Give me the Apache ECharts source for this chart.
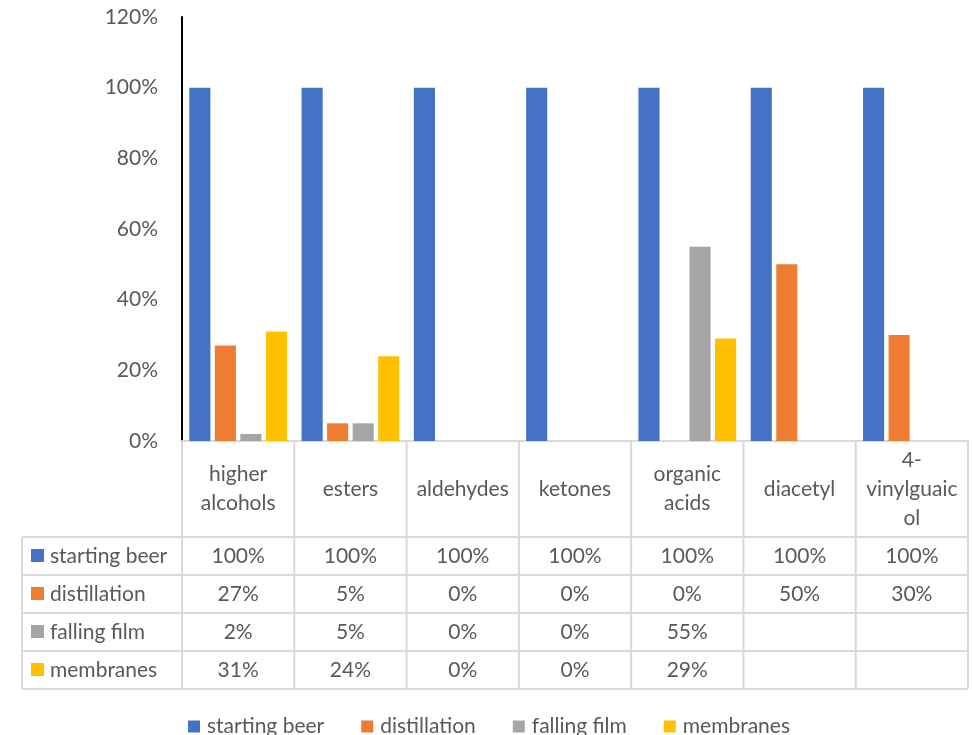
<!DOCTYPE html>
<html>
<head>
<meta charset="utf-8">
<script src="https://cdn.jsdelivr.net/npm/echarts@6/dist/echarts.min.js"></script>
<style>
  html, body { margin: 0; padding: 0; background: #fff; }
  #main { width: 972px; height: 735px; }
</style>
</head>
<body>
<div id="main"></div>
<script>
// Category headers, wrapped as they appear in the data table header row
const categories = ['higher\nalcohols', 'esters', 'aldehydes', 'ketones', 'organic\nacids', 'diacetyl', '4-\nvinylguaic\nol'];
const seriesNames = ['starting beer', 'distillation', 'falling film', 'membranes'];
const startingBeer = [1.00, 1.00, 1.00, 1.00, 1.00, 1.00, 1.00];
const distillation = [0.27, 0.05, 0.00, 0.00, 0.00, 0.50, 0.30];
const fallingFilm  = [0.02, 0.05, 0.00, 0.00, 0.55, null, null];
const membranes    = [0.31, 0.24, 0.00, 0.00, 0.29, null, null];
const yTicks = [0, 0.2, 0.4, 0.6, 0.8, 1.0, 1.2];

const colors = ['#4472C4', '#ED7D31', '#A5A5A5', '#FFC000'];
const allSeries = [startingBeer, distillation, fallingFilm, membranes];
const FONT = 'Lato, "Open Sans", sans-serif';
const FS = 21;
const TEXT = '#595959';
const LINE = '#d9d9d9';

const chart = echarts.init(document.getElementById('main'));

const pct = v => Math.round(v * 100) + '%';

chart.setOption({
  animation: false,
  color: colors,
  textStyle: { fontFamily: FONT },
  grid: { left: 182, right: 4, top: 17, bottom: 294, containLabel: false },
  legend: {
    data: seriesNames,
    left: 188,
    top: 716,
    padding: 0,
    icon: 'rect',
    itemWidth: 12,
    itemHeight: 12,
    itemGap: 37,
    textStyle: { fontSize: FS, color: TEXT, fontFamily: FONT, padding: [0, 0, 0, 2] }
  },
  xAxis: {
    type: 'category',
    data: categories,
    axisLine: { show: true, lineStyle: { color: LINE, width: 2 } },
    axisTick: { show: false },
    axisLabel: {
      interval: 0,
      margin: 48,
      verticalAlign: 'middle',
      fontSize: FS,
      lineHeight: 29,
      color: TEXT,
      fontFamily: FONT
    }
  },
  yAxis: {
    type: 'value',
    min: yTicks[0],
    max: yTicks[yTicks.length - 1],
    interval: 0.2,
    axisLine: { show: true, lineStyle: { color: '#000', width: 2 } },
    axisTick: { show: false },
    splitLine: { show: false },
    axisLabel: {
      margin: 24,
      fontSize: FS,
      color: TEXT,
      fontFamily: FONT,
      formatter: v => pct(v)
    }
  },
  series: allSeries.map((d, i) => ({
    name: seriesNames[i],
    type: 'bar',
    data: d,
    barGap: '21%',
    barCategoryGap: '13%',
    itemStyle: { color: colors[i] }
  }))
});

// Data table below the plot, aligned to the category axis bands
const y0 = chart.convertToPixel({ yAxisIndex: 0 }, 0);
const centers = categories.map((c, i) => chart.convertToPixel({ xAxisIndex: 0 }, i));
const band = centers[1] - centers[0];
const xStart = centers[0] - band / 2;
const xEnd = centers[centers.length - 1] + band / 2;
const headerH = 96;
const rowH = 38;
const tableLeft = 22;
const rowTop = y0 + headerH;
const tableBottom = rowTop + rowH * seriesNames.length;

const g = [];
const line = (x1, y1, x2, y2) => g.push({
  type: 'line', silent: true,
  shape: { x1, y1, x2, y2 },
  style: { stroke: LINE, lineWidth: 2 }
});

// vertical cell borders
for (let i = 0; i <= categories.length; i++) {
  const x = xStart + band * i;
  line(x, y0, x, tableBottom);
}
line(tableLeft, rowTop, tableLeft, tableBottom);
// horizontal cell borders
for (let r = 0; r <= seriesNames.length; r++) {
  const y = rowTop + rowH * r;
  line(tableLeft, y, xEnd, y);
}

// row headers with legend keys, and value cells
seriesNames.forEach((name, r) => {
  const cy = rowTop + rowH * r + rowH / 2;
  g.push({
    type: 'rect', silent: true,
    shape: { x: 31, y: cy - 7, width: 13, height: 13 },
    style: { fill: colors[r] }
  });
  g.push({
    type: 'text', silent: true,
    x: 50, y: cy,
    style: { text: name, fontSize: FS, fontFamily: FONT, fill: TEXT, verticalAlign: 'middle', align: 'left' }
  });
  allSeries[r].forEach((v, i) => {
    if (v === null) return;
    g.push({
      type: 'text', silent: true,
      x: centers[i], y: cy,
      style: { text: pct(v), fontSize: FS, fontFamily: FONT, fill: TEXT, verticalAlign: 'middle', align: 'center' }
    });
  });
});

chart.setOption({ graphic: { elements: g } });
</script>
</body>
</html>
